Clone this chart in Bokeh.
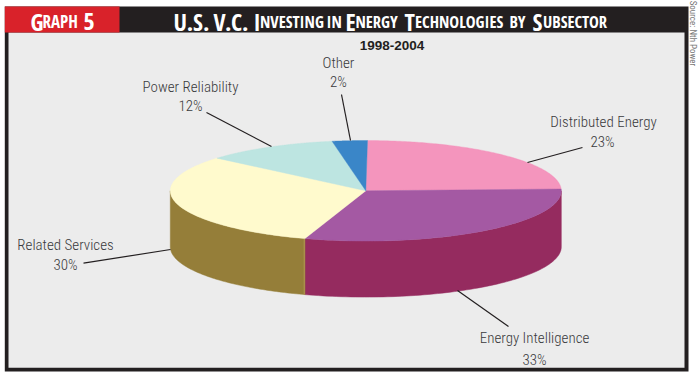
import numpy as np
from bokeh.plotting import figure
from bokeh.embed import file_html
from bokeh.resources import INLINE
from bokeh.core.properties import value

categories = ["Distributed Energy", "Energy Intelligence", "Related Services", "Power Reliability", "Other"]
labelled_percent = [23, 33, 30, 12, 2]
# The printed labels and the drawn slices disagree in the source picture, so the
# slice sizes below are the shares measured from the drawing, not the labels.
drawn_share_percent = [24.3, 30.6, 31.2, 11.0, 2.9]
top_colors = ["#f495bd", "#a459a3", "#fffacd", "#bde5e1", "#3a86c8"]
side_colors = ["#7d2a55", "#952b5f", "#957e39", "#8aa8a5", "#2a5f8f"]
subtitle = "1998-2004"
source_note = "Source: Nth Power"
badge_words = ["Graph", "5"]
title_words = ["U.S.", "V.C.", "Investing", "in", "Energy", "Technologies", "by", "Subsector"]

FONT = value("'Roboto Condensed Light', 'Roboto Condensed', sans-serif")
SMALL = value("'Roboto Condensed', sans-serif")
BOLD = value("'Open Sans Condensed', 'Roboto Condensed', sans-serif")
W, H = 700, 376
p = figure(width=W, height=H, x_range=(0, W), y_range=(H, 0), output_backend="svg",
           toolbar_location=None, min_border=0, outline_line_color=None,
           background_fill_color="white", border_fill_color="white",
           styles={"position": "absolute", "left": "0px", "top": "0px"})
p.axis.visible = False
p.grid.visible = False

# Frame
INK = "#231f20"
p.quad(left=4.3, right=688, top=6, bottom=371, fill_color=INK, line_color=None)
p.quad(left=8, right=684, top=32, bottom=367.3, fill_color="#ececec", line_color=None)
p.quad(left=4.3, right=119, top=6, bottom=32, fill_color="#d9222a", line_color=None)

# Pie geometry
CX, CY, RX, RY, DEPTH = 365.3, 190.3, 195.5, 50.3, 56.0
START = 89.5

def ex(t):
    return CX + RX * np.cos(np.radians(t))

def ey(t):
    return CY - RY * np.sin(np.radians(t))

sweeps = np.array(drawn_share_percent) / sum(drawn_share_percent) * 360
edges = START - np.concatenate([[0], np.cumsum(sweeps)])

# Side walls: only the portion of each slice on the lower half of the ellipse shows.
for i in range(len(categories)):
    a0, a1 = edges[i], edges[i + 1]   # clockwise, a0 > a1
    for lo, hi in [(-180.0, 0.0), (-540.0, -360.0)]:
        s = max(a1, lo)
        e = min(a0, hi)
        if e > s:
            t = np.linspace(e, s, 80)
            xs = np.concatenate([ex(t), ex(t[::-1])])
            ys = np.concatenate([ey(t), ey(t[::-1]) + DEPTH])
            p.patch(xs, ys, fill_color=side_colors[i], line_color=side_colors[i], line_width=0.5)

# Thin lit edge on the cut between the two visible walls
p.segment(x0=[ex(edges[2]) - 0.6], y0=[ey(edges[2])], x1=[ex(edges[2]) - 0.6], y1=[ey(edges[2]) + DEPTH],
          line_color="#a98f4b", line_width=1.5)

# Top faces
for i in range(len(categories)):
    t = np.linspace(edges[i], edges[i + 1], 120)
    xs = np.concatenate([[CX], ex(t)])
    ys = np.concatenate([[CY], ey(t)])
    p.patch(xs, ys, fill_color=top_colors[i], line_color=top_colors[i], line_width=0.4)

# Leader lines
p.segment(x0=[527, 457, 83, 206, 341], y0=[162, 290, 262.7, 112, 94],
          x1=[582, 508, 170, 271, 350], y1=[147, 326, 249, 146, 140],
          line_color=INK, line_width=1.2)

# Slice labels
LABEL_COLOR = "#3a3a3c"
name_x = [603, 534, 65, 190, 338]
name_y = [121, 337, 244, 86, 62]
pct_x = [602, 534, 65, 190, 338]
pct_y = [141, 359, 264, 105, 81]
p.text(x=name_x, y=name_y, text=categories, text_font=FONT, text_font_size="15px",
       text_color=LABEL_COLOR, text_align="center", text_baseline="middle")
p.text(x=pct_x, y=pct_y, text=[f"{v}%" for v in labelled_percent], text_font=FONT, text_font_size="15px",
       text_color=LABEL_COLOR, text_align="center", text_baseline="middle")

p.text(x=[391.5], y=[45], text=[subtitle], text_font=value("Liberation Sans"), text_font_style="bold",
       text_font_size="13.5px", text_color=INK, text_align="center", text_baseline="middle")

p.text(x=[692], y=[33], text=[source_note], text_font=SMALL, text_font_size="9px", text_color="#777777",
       text_align="center", text_baseline="middle", angle=-np.pi / 2)

# Small-caps headings: a larger first letter, then the remaining letters in capitals.
# A lower-case word ("in", "by") is set entirely in the small capitals.
def small_caps(word, x, base, big, small, cap_w):
    def run(text, xpos, size):
        p.text(x=[xpos], y=[base], text=[text], text_font=BOLD, text_font_style="bold",
               text_font_size=f"{size}px", text_color="white", text_align="left", text_baseline="alphabetic")
    if word[0].islower():
        run(word.upper(), x, small)
    elif len(word) == 1 or word[1] == ".":
        run(word, x, big)
    else:
        run(word[0], x, big)
        run(word[1:].upper(), x + cap_w, small)

title_x = [173, 213, 253, 326, 345, 404, 509, 532]
cap_w = [12, 12, 6.5, 6, 10, 10.5, 10.5, 10.5]
for w, x, c in zip(title_words, title_x, cap_w):
    small_caps(w, x, 21, 24, 16.5, c)
small_caps(badge_words[0], 30, 21, 24, 17, 12)
small_caps(badge_words[1], 83, 21, 24, 24, 0)

open("out.html", "w").write(file_html(p, INLINE))
